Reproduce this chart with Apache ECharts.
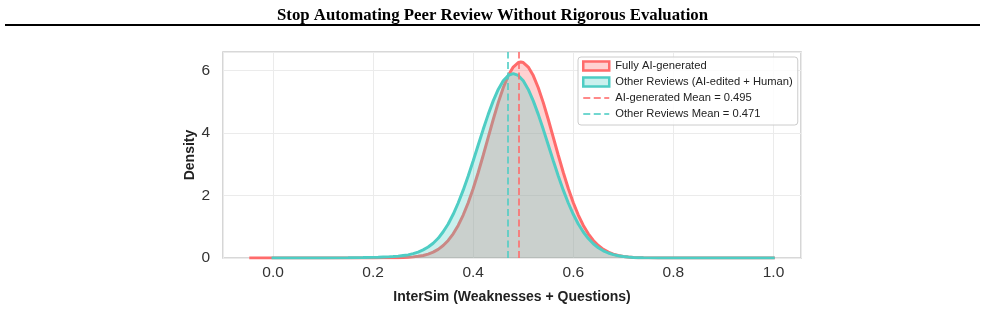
<!DOCTYPE html>
<html>
<head>
<meta charset="utf-8">
<script src="https://cdn.jsdelivr.net/npm/echarts@6/dist/echarts.min.js"></script>
<style>
html,body{margin:0;padding:0;background:#fff;}
#chart{width:985px;height:328px;}
</style>
</head>
<body>
<div id="chart"></div>
<script>
// ---- Data ----
const titleText = 'Stop Automating Peer Review Without Rigorous Evaluation';
const seriesNames = ['Fully AI-generated', 'Other Reviews (AI-edited + Human)'];
const meanAI = 0.495;
const meanOther = 0.471;
const xTicks = [0.0, 0.2, 0.4, 0.6, 0.8, 1.0];
const yTicks = [0, 2, 4, 6];

const xAI = [-0.0475, 0.00, 0.05, 0.10, 0.15, 0.20, 0.22, 0.24,
  0.25, 0.26, 0.27, 0.28, 0.29, 0.30, 0.31, 0.32, 0.33, 0.34, 0.35, 0.36, 0.37, 0.38, 0.39,
  0.40, 0.41, 0.42, 0.43, 0.44, 0.45, 0.46, 0.47, 0.48, 0.49, 0.495, 0.50, 0.51, 0.52, 0.53, 0.54,
  0.55, 0.56, 0.57, 0.58, 0.59, 0.60, 0.61, 0.62, 0.63, 0.64, 0.65, 0.66, 0.67, 0.68, 0.69,
  0.70, 0.71, 0.72, 0.73, 0.74, 0.75, 0.77, 0.80, 0.85, 0.90, 0.95, 1.0025];
const yAI = [0, 0, 0, 0, 0.001, 0.002, 0.004, 0.007,
  0.010, 0.015, 0.024, 0.036, 0.055, 0.082, 0.125, 0.186, 0.275, 0.398, 0.561, 0.774, 1.043, 1.374, 1.768,
  2.225, 2.736, 3.287, 3.860, 4.430, 4.970, 5.447, 5.836, 6.110, 6.252, 6.270, 6.252, 6.110, 5.836, 5.447, 4.970,
  4.430, 3.860, 3.287, 2.736, 2.225, 1.768, 1.374, 1.043, 0.774, 0.561, 0.398, 0.275, 0.186, 0.123, 0.079,
  0.051, 0.031, 0.019, 0.011, 0.006, 0.004, 0.002, 0.001, 0, 0, 0, 0];

const xOther = [-0.003, 0.05, 0.10, 0.15, 0.18, 0.20, 0.21, 0.22, 0.23, 0.24,
  0.25, 0.26, 0.27, 0.28, 0.29, 0.30, 0.31, 0.32, 0.33, 0.34, 0.35, 0.36, 0.37, 0.38, 0.39,
  0.40, 0.41, 0.42, 0.43, 0.44, 0.45, 0.46, 0.47, 0.48, 0.49, 0.50, 0.51, 0.52, 0.53, 0.54,
  0.55, 0.56, 0.57, 0.58, 0.59, 0.60, 0.61, 0.62, 0.63, 0.64, 0.65, 0.66, 0.67, 0.68, 0.69,
  0.70, 0.71, 0.72, 0.73, 0.74, 0.75, 0.77, 0.80, 0.85, 0.90, 0.95, 1.0025];
const yOther = [0, 0.001, 0.003, 0.008, 0.013, 0.020, 0.024, 0.030, 0.036, 0.045,
  0.060, 0.080, 0.100, 0.140, 0.190, 0.260, 0.350, 0.470, 0.630, 0.840, 1.089, 1.398, 1.759, 2.171, 2.625,
  3.111, 3.614, 4.116, 4.595, 5.027, 5.392, 5.669, 5.841, 5.900, 5.841, 5.669, 5.392, 5.027, 4.595, 4.116,
  3.614, 3.111, 2.625, 2.171, 1.759, 1.398, 1.089, 0.831, 0.622, 0.456, 0.328, 0.231, 0.160, 0.108, 0.072,
  0.047, 0.030, 0.019, 0.011, 0.007, 0.004, 0.002, 0.001, 0, 0, 0, 0];

// ---- Style ----
const RED = '#FF6B6B';
const TEAL = '#4ECDC4';
const RED_FILL = 'rgba(255,107,107,0.3)';
const TEAL_FILL = 'rgba(78,205,196,0.3)';
const RED_DASH = 'rgba(255,107,107,0.8)';
const TEAL_DASH = 'rgba(78,205,196,0.8)';
const SANS = 'Liberation Sans';
const DASH = [7, 3.5];

const meanNames = ['AI-generated Mean = ' + meanAI.toFixed(3), 'Other Reviews Mean = ' + meanOther.toFixed(3)];

function pairs(xs, ys) { return xs.map((x, i) => [x, ys[i]]); }
function isTick(v, ticks) { return ticks.some(t => Math.abs(t - v) < 1e-6); }

const chart = echarts.init(document.getElementById('chart'), null, {renderer: 'canvas'});
chart.setOption({
  animation: false,
  backgroundColor: '#ffffff',
  title: {
    text: titleText, left: 'center', top: 2,
    textStyle: {fontFamily: 'Liberation Serif', fontWeight: 'bold', fontSize: 16.8, color: '#000'}
  },
  graphic: [{
    type: 'line', shape: {x1: 5, y1: 25, x2: 980, y2: 25},
    style: {stroke: '#000', lineWidth: 2}, silent: true
  }],
  grid: {
    left: 223, top: 52, right: 184, bottom: 70,
    show: true, borderColor: '#cccccc', borderWidth: 1.6, backgroundColor: '#fff'
  },
  legend: {
    orient: 'vertical', left: 578, top: 57,
    padding: [3, 5, 5, 4], itemGap: 4, itemWidth: 26, itemHeight: 9,
    borderColor: '#cccccc', borderWidth: 1, borderRadius: 3,
    backgroundColor: 'rgba(255,255,255,0.85)',
    textStyle: {fontFamily: SANS, fontSize: 11.2, color: '#222', lineHeight: 12, padding: [0, 0, 0, 1]},
    data: [
      {name: seriesNames[0], icon: 'rect', itemStyle: {color: RED_FILL, opacity: 1, borderColor: RED, borderWidth: 2.5}},
      {name: seriesNames[1], icon: 'rect', itemStyle: {color: TEAL_FILL, opacity: 1, borderColor: TEAL, borderWidth: 2.5}},
      {name: meanNames[0], itemStyle: {opacity: 0}},
      {name: meanNames[1], itemStyle: {opacity: 0}}
    ]
  },
  xAxis: {
    type: 'value', min: -0.1, max: 1.055, splitNumber: 5,
    axisLine: {show: false}, axisTick: {show: false},
    axisLabel: {
      fontFamily: SANS, fontSize: 15.5, color: '#333', margin: 7,
      showMinLabel: false, showMaxLabel: false,
      formatter: v => isTick(v, xTicks) ? v.toFixed(1) : ''
    },
    splitLine: {show: true, lineStyle: {color: '#ebebeb', width: 1}},
    name: 'InterSim (Weaknesses + Questions)', nameLocation: 'middle', nameGap: 32,
    nameMoveOverlap: false,
    nameTextStyle: {fontFamily: SANS, fontWeight: 'bold', fontSize: 14, color: '#222'}
  },
  yAxis: {
    type: 'value', min: 0, max: 6.59, interval: 2,
    axisLine: {show: false}, axisTick: {show: false},
    axisLabel: {
      fontFamily: SANS, fontSize: 15.5, color: '#333', margin: 13,
      showMaxLabel: false,
      formatter: v => isTick(v, yTicks) ? String(v) : ''
    },
    splitLine: {show: true, lineStyle: {color: '#ebebeb', width: 1}},
    name: 'Density', nameLocation: 'middle', nameGap: 26, nameRotate: 90,
    nameMoveOverlap: false,
    nameTextStyle: {fontFamily: SANS, fontWeight: 'bold', fontSize: 14, color: '#222'}
  },
  series: [
    {
      name: seriesNames[0], type: 'line', data: pairs(xAI, yAI),
      symbol: 'none', smooth: false,
      lineStyle: {color: RED, width: 3}, itemStyle: {color: RED},
      areaStyle: {color: RED, opacity: 0.3, origin: 'start'}, z: 2
    },
    {
      name: seriesNames[1], type: 'line', data: pairs(xOther, yOther),
      symbol: 'none', smooth: false,
      lineStyle: {color: TEAL, width: 3}, itemStyle: {color: TEAL},
      areaStyle: {color: TEAL, opacity: 0.3, origin: 'start'}, z: 3
    },
    {
      name: meanNames[0], type: 'line', data: [], symbol: 'none',
      lineStyle: {color: RED_DASH, width: 2, type: DASH}, itemStyle: {color: RED_DASH},
      markLine: {
        silent: true, symbol: ['none', 'none'], label: {show: false},
        lineStyle: {color: RED_DASH, width: 2, type: DASH},
        data: [{xAxis: meanAI}]
      }, z: 4
    },
    {
      name: meanNames[1], type: 'line', data: [], symbol: 'none',
      lineStyle: {color: TEAL_DASH, width: 2, type: DASH}, itemStyle: {color: TEAL_DASH},
      markLine: {
        silent: true, symbol: ['none', 'none'], label: {show: false},
        lineStyle: {color: TEAL_DASH, width: 2, type: DASH},
        data: [{xAxis: meanOther}]
      }, z: 4
    }
  ]
});
</script>
</body>
</html>
